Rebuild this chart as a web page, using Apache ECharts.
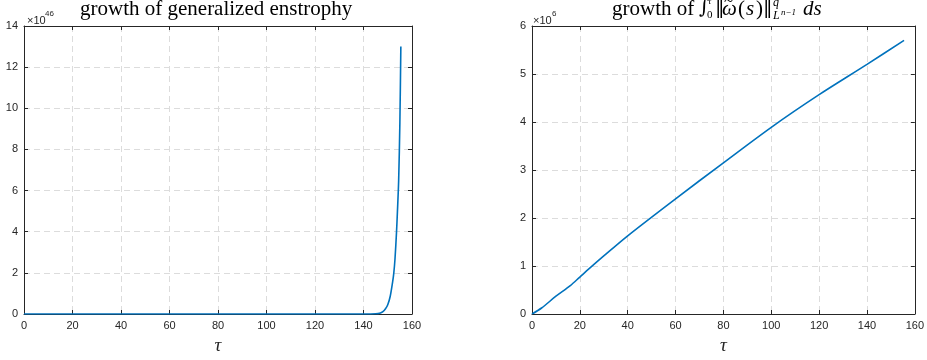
<!DOCTYPE html>
<html>
<head>
<meta charset="utf-8">
<script src="https://cdn.jsdelivr.net/npm/echarts@6/dist/echarts.min.js"></script>
<style>
  html, body { margin: 0; padding: 0; background: #fff; }
  #main { width: 927px; height: 360px; }
</style>
</head>
<body>
<div id="main"></div>
<script>
// left panel: generalized enstrophy (units of 1e46)
var tauLeft = [0, 20, 40, 60, 80, 100, 120, 140, 143, 145, 146, 147, 148, 149, 150, 151, 152, 152.5, 153, 153.6, 154, 154.5, 155, 155.4];
var enstrophy = [0, 0, 0, 0, 0, 0, 0, 0, 0.003, 0.01, 0.02, 0.05, 0.11, 0.24, 0.45, 0.85, 1.55, 2.0, 2.7, 3.95, 5.0, 6.5, 9.3, 13.0];

// right panel: time integral (units of 1e6)
var tauRight = [0, 4, 10, 16, 20, 24, 30, 40, 60, 80, 100, 120, 140, 155.5];
var integral = [0, 0.125, 0.37, 0.59, 0.77, 0.95, 1.21, 1.63, 2.40, 3.15, 3.89, 4.57, 5.2, 5.70];

function pairs(xs, ys) {
  var out = [];
  for (var i = 0; i < xs.length; i++) {
    out.push([xs[i], ys[i]]);
  }
  return out;
}

var myChart = echarts.init(document.getElementById('main'));

var axisColor = '#262626';
var gridLine = { show: true, lineStyle: { color: '#dcdcdc', type: [6, 4], width: 1 } };
var sansFont = 'Liberation Sans';

function xAxisPair(gi, name) {
  return [{
    type: 'value', gridIndex: gi, min: 0, max: 160, interval: 20,
    name: name, nameLocation: 'middle', nameGap: 22,
    nameTextStyle: { fontFamily: 'Liberation Serif', fontStyle: 'italic', fontSize: 19, color: axisColor },
    axisLine: { show: true, onZero: false, lineStyle: { color: axisColor, width: 1 } },
    axisTick: { show: true, inside: true, length: 4, lineStyle: { color: axisColor } },
    axisLabel: { color: axisColor, fontFamily: sansFont, fontSize: 11, margin: 6 },
    splitLine: gridLine
  }, {
    type: 'value', gridIndex: gi, position: 'top', min: 0, max: 160, interval: 20,
    axisLine: { show: true, onZero: false, lineStyle: { color: axisColor, width: 1 } },
    axisTick: { show: true, inside: true, length: 4, lineStyle: { color: axisColor } },
    axisLabel: { show: false },
    splitLine: { show: false }
  }];
}

function yAxisPair(gi, max, step) {
  return [{
    type: 'value', gridIndex: gi, min: 0, max: max, interval: step,
    axisLine: { show: true, onZero: false, lineStyle: { color: axisColor, width: 1 } },
    axisTick: { show: true, inside: true, length: 4, lineStyle: { color: axisColor } },
    axisLabel: { color: axisColor, fontFamily: sansFont, fontSize: 11, margin: 6 },
    splitLine: gridLine
  }, {
    type: 'value', gridIndex: gi, position: 'right', min: 0, max: max, interval: step,
    axisLine: { show: true, onZero: false, lineStyle: { color: axisColor, width: 1 } },
    axisTick: { show: true, inside: true, length: 4, lineStyle: { color: axisColor } },
    axisLabel: { show: false },
    splitLine: { show: false }
  }];
}

var xa = xAxisPair(0, 'τ').concat(xAxisPair(1, 'τ'));
var ya = yAxisPair(0, 14, 2).concat(yAxisPair(1, 6, 1));

var titleColor = '#000';
var big = '21px "Liberation Serif"';
var bigIt = 'italic 21px "Liberation Serif"';

function txt(x, y, s, font, color) {
  return { type: 'text', x: x, y: y, z: 10, style: { text: s, font: font, fill: color || titleColor } };
}

var option = {
  animation: false,
  backgroundColor: '#fff',
  grid: [
    { left: 24, right: 515, top: 26, bottom: 45 },
    { left: 532, right: 8, top: 26, bottom: 45 }
  ],
  xAxis: xa,
  yAxis: ya,
  series: [{
    type: 'line', xAxisIndex: 0, yAxisIndex: 0, showSymbol: false, smooth: 0.3,
    lineStyle: { color: '#0072BD', width: 1.6 },
    data: pairs(tauLeft, enstrophy)
  }, {
    type: 'line', xAxisIndex: 2, yAxisIndex: 2, showSymbol: false, smooth: 0.3,
    lineStyle: { color: '#0072BD', width: 1.6 },
    data: pairs(tauRight, integral)
  }],
  graphic: [
    // left title
    txt(80, -1, 'growth of generalized enstrophy', big),
    // exponent markers
    txt(27, 15, '×10', '11px "Liberation Sans"', axisColor),
    txt(45, 10, '46', '8px "Liberation Sans"', axisColor),
    txt(533, 15, '×10', '11px "Liberation Sans"', axisColor),
    txt(552, 10, '6', '8px "Liberation Sans"', axisColor),
    // right title with formula
    txt(612, -1, 'growth of', big),
    txt(699, -2, '∫', 'italic 20px "DejaVu Serif"'),
    txt(708, -3, 'τ', 'italic 9px "Liberation Serif"'),
    txt(707, 10, '0', '11px "Liberation Serif"'),
    txt(715, -1, '‖', '19px "DejaVu Serif"'),
    txt(722, -1, 'ω', bigIt),
    txt(724, -7, '~', '17px "Liberation Serif"'),
    txt(738, -1, '(', big),
    txt(746, -1, 's', bigIt),
    txt(756, -1, ')', big),
    txt(763, -1, '‖', '19px "DejaVu Serif"'),
    txt(773, -3, 'q', 'italic 12px "Liberation Serif"'),
    txt(773, 10, 'L', 'italic 12px "Liberation Serif"'),
    txt(781, 8, 'n−1', 'italic 9px "Liberation Serif"'),
    txt(803, -1, 'ds', bigIt)
  ]
};

myChart.setOption(option);
</script>
</body>
</html>
